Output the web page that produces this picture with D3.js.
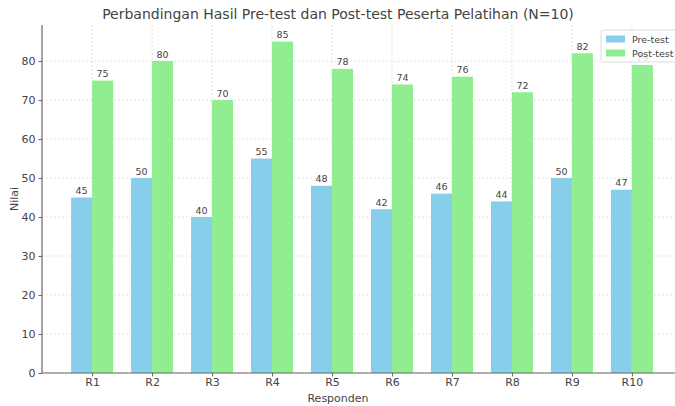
<!DOCTYPE html>
<html>
<head>
<meta charset="utf-8">
<script src="https://cdn.jsdelivr.net/npm/d3@7"></script>
<style>
body{margin:0;background:#fff;font-family:"DejaVu Sans",sans-serif;}
svg{display:block;}
</style>
</head>
<body>
<svg id="svg" width="675" height="406"></svg>
<script>
const categories=["R1","R2","R3","R4","R5","R6","R7","R8","R9","R10"];
const preTest=[45,50,40,55,48,42,46,44,50,47];
const postTest=[75,80,70,85,78,74,76,72,82,79];
const yTicks=[0,10,20,30,40,50,60,70,80];
const seriesNames=["Pre-test","Post-test"];
const colors=["#87CEEB","#90EE90"];

const plotLeft=42,plotRight=682,plotTop=25,plotBottom=373;
const barW=0.35;
const textColor="#444";

var svg=d3.select("#svg");

// x in category units, matplotlib-like margins
var x=d3.scaleLinear().domain([-0.835,9.835]).range([plotLeft,plotRight]);
var y=d3.scaleLinear().domain([0,89.25]).range([plotBottom,plotTop]);

// grid
svg.append("g").selectAll("line")
    .data(yTicks).enter().append("line")
        .attr("x1",plotLeft).attr("x2",plotRight)
        .attr("y1",d=>y(d)).attr("y2",d=>y(d))
        .attr("stroke","#d9d9d9").attr("stroke-dasharray","2,2").attr("stroke-width",0.8)
svg.append("g").selectAll("line")
    .data(categories).enter().append("line")
        .attr("x1",(d,i)=>x(i)).attr("x2",(d,i)=>x(i))
        .attr("y1",plotTop).attr("y2",plotBottom)
        .attr("stroke","#d9d9d9").attr("stroke-dasharray","2,2").attr("stroke-width",0.8)

//bars
;[preTest,postTest].forEach((vals,s)=>{
    var g=svg.append("g")
    g.selectAll("rect")
        .data(vals).enter().append("rect")
            .attr("x",(d,i)=>x(i+(s===0?-barW:0)))
            .attr("width",x(barW)-x(0))
            .attr("y",d=>y(d))
            .attr("height",d=>plotBottom-y(d))
            .attr("fill",colors[s])
    g.selectAll("text")
        .data(vals).enter().append("text")
            .attr("x",(d,i)=>x(i+(s===0?-barW/2:barW/2)))
            .attr("y",d=>y(d)-3.5)
            .attr("text-anchor","middle")
            .style("font-size","9.5px")
            .style("fill",textColor)
            .text(d=>d)
})

//axes
var xAxis=svg.append("g")
    .attr("transform","translate(0,"+plotBottom+")")
    .call(d3.axisBottom(x).tickValues(d3.range(categories.length)).tickFormat(i=>categories[i]).tickSize(3.5).tickSizeOuter(0))
var yAxis=svg.append("g")
    .attr("transform","translate("+plotLeft+",0)")
    .call(d3.axisLeft(y).tickValues(yTicks).tickSize(3.5).tickSizeOuter(0))
;[xAxis,yAxis].forEach(a=>{
    a.select(".domain").attr("stroke","#666").attr("stroke-width",1.2)
    a.selectAll(".tick line").attr("stroke","#666")
    a.selectAll(".tick text").style("font-size","11px").style("fill",textColor).style("font-family","DejaVu Sans")
})
xAxis.selectAll(".tick text").attr("y",5).attr("dy","0.71em")
yAxis.select(".domain").attr("d","M0,"+plotTop+"V"+plotBottom)
xAxis.select(".domain").attr("d","M"+plotLeft+",0H"+plotRight)

//labels
svg.append("text")
    .attr("x",338).attr("y",19)
    .attr("text-anchor","middle")
    .style("font-size","14px").style("fill",textColor)
    .text("Perbandingan Hasil Pre-test dan Post-test Peserta Pelatihan (N=10)")
svg.append("text")
    .attr("x",338).attr("y",402)
    .attr("text-anchor","middle")
    .style("font-size","11px").style("fill",textColor)
    .text("Responden")
svg.append("text")
    .attr("transform","translate(18,199) rotate(-90)")
    .attr("text-anchor","middle")
    .style("font-size","11px").style("fill",textColor)
    .text("Nilai")

//legend (drawn over the R10 label, as in the original)
var legend=svg.append("g").attr("transform","translate(601,30)")
legend.append("rect")
    .attr("width",80).attr("height",32).attr("rx",2)
    .attr("fill","#fff").attr("fill-opacity",0.8).attr("stroke","#ddd")
legend.selectAll("g.item")
    .data(seriesNames).enter().append("g")
        .attr("class","item")
        .attr("transform",(d,i)=>"translate(5,"+(4+i*14)+")")
        .each(function(d,i){
            var it=d3.select(this)
            it.append("rect").attr("width",19).attr("height",7).attr("y",1.5).attr("fill",colors[i])
            it.append("text").attr("x",26).attr("y",8.5).style("font-size","9.5px").style("fill",textColor).text(d)
        })
</script>
</body>
</html>
